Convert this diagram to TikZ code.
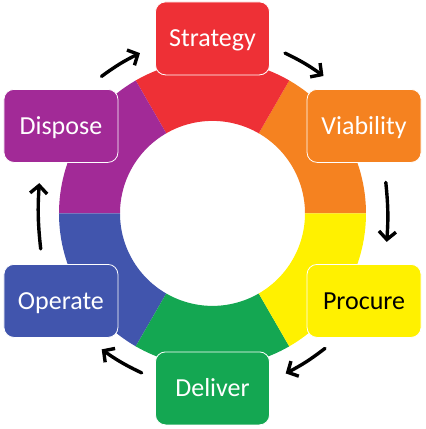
\documentclass[tikz,border=0pt]{standalone}
\usepackage{fontspec}
\setmainfont{Carlito}
\usetikzlibrary{arrows.meta}

\definecolor{cycred}{RGB}{238,48,54}
\definecolor{cycorange}{RGB}{245,130,32}
\definecolor{cycyellow}{RGB}{255,241,0}
\definecolor{cycgreen}{RGB}{20,167,82}
\definecolor{cycblue}{RGB}{65,85,173}
\definecolor{cycpurple}{RGB}{162,42,151}

\begin{document}
\begin{tikzpicture}[x=1pt, y=1pt,
  stage/.style={rectangle, rounded corners=10pt, draw=white, line width=0.8pt, fill=#1,
    minimum width=114pt, minimum height=73pt, text height=16.7pt, text depth=0pt,
    text=white, font=\fontsize{26}{30}\selectfont},
  cyc/.style={-{Straight Barb[length=8pt,width=17pt]}, line width=3.4pt, line cap=round, bend left=5}
]
\useasboundingbox (-212.5,-215.6) rectangle (213.5,213.4);

% ring
\foreach \c/\a in {cycorange/0,cycred/60,cycpurple/120,cycblue/180,cycgreen/240,cycyellow/300} {
  \fill[\c] (\a:153.5pt) arc[start angle=\a, end angle=\a+60, radius=153.5pt]
    -- (\a+60:92.5pt) arc[start angle=\a+60, end angle=\a, radius=92.5pt] -- cycle;
}

\node[stage=cycred]    (strategy)  at (90:175pt)   {Strategy};
\node[stage=cycorange] (viability) at (30:175pt)   {Viability};
\node[stage=cycyellow, text=black] (procure) at (-30:175pt) {Procure};
\node[stage=cycgreen]  (deliver)   at (-90:175pt)  {Deliver};
\node[stage=cycblue]   (operate)   at (-150:175pt) {Operate};
\node[stage=cycpurple] (dispose)   at (150:175pt)  {Dispose};

% cycle arrows
\foreach \i/\tx/\ty/\hx/\hy in {1/-111/137/-72.5/160.3, 2/72.5/160.3/111/137.4,
    3/173.3/31/174.2/-28.5, 4/112.5/-135/73.2/-160, 5/-70.8/-159.5/-110.8/-136,
    6/-171.8/-35.5/-173.2/30.3} {
  \coordinate (t\i) at (\tx,\ty);
  \coordinate (h\i) at (\hx,\hy);
  \draw[cyc] (t\i) to (h\i);
}
\end{tikzpicture}
\end{document}
